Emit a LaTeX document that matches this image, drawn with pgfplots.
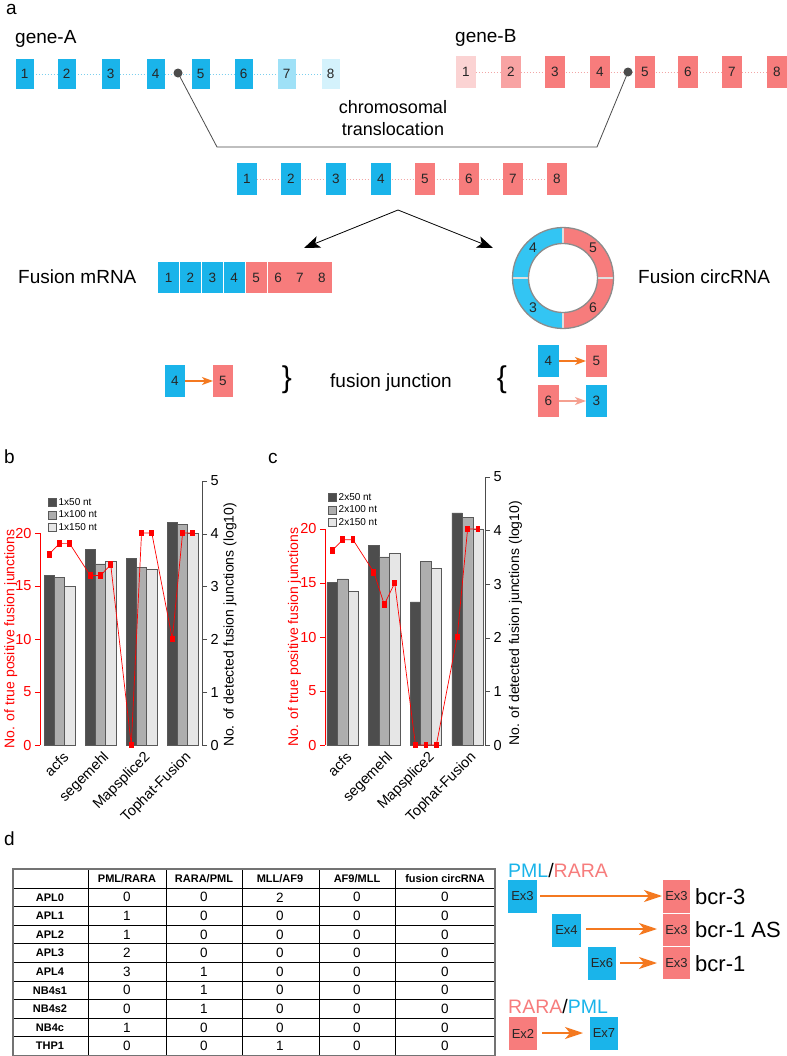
\documentclass[border=0pt]{standalone}
\usepackage{pgfplots}
\pgfplotsset{compat=1.18}
\usepackage{pgfplotstable}
\usepackage{fontspec}
\setmainfont{Liberation Sans}
\usetikzlibrary{arrows.meta}

\definecolor{cblue}{HTML}{1AB4EA}
\definecolor{cblueS}{HTML}{9FE1F7}
\definecolor{cblueT}{HTML}{D4F2FC}
\definecolor{cbluedot}{HTML}{7ACFEE}
\definecolor{cpink}{HTML}{F77C7C}
\definecolor{cpinkS}{HTML}{FBD3D3}
\definecolor{cpinkT}{HTML}{F8A3A3}
\definecolor{cpinkdot}{HTML}{F2A6A6}
\definecolor{ringblue}{HTML}{33C5F3}
\definecolor{corange}{HTML}{F47920}
\definecolor{clpink}{HTML}{F5A090}
\definecolor{barA}{HTML}{4D4D4D}
\definecolor{barB}{HTML}{AEAEAE}
\definecolor{barC}{HTML}{E6E6E6}

\newcommand{\fs}[1]{\fontsize{#1bp}{#1bp}\selectfont}
% exon box: x y w h colour label
\newcommand{\ex}[6]{%
  \fill[#5] (#1,#2) rectangle ++(#3,#4);
  \node[font=\fs{13.5}, inner sep=0pt, text=black!85] at ({#1+#3/2},{#2+#4/2}) {#6};}

% upright rectangle mark, like R's pch 15 on this plot
\pgfdeclareplotmark{rrect}{%
  \pgfpathrectangle{\pgfpoint{-2.4bp}{-3.4bp}}{\pgfpoint{4.8bp}{6.8bp}}%
  \pgfusepathqfill}

\pgfplotsset{
  mybar/.style={ybar, bar width=1, bar shift=0pt, draw=black!65, line width=0.5bp,
    legend image code/.code={\draw[##1, line width=0.5bp] (0bp,-4bp) rectangle (8bp,4bp);}},
  redline/.style={red, line width=0.7bp, mark=rrect, mark options={solid, fill=red}},
}

% detected junctions (log10), bars
\pgfplotstableread{
x50  n50  x100 n100 x150 n150
1.5  3.21 2.5  3.17 3.5  3.01
5.5  3.70 6.5  3.43 7.5  3.48
9.5  3.53 10.5 3.36 11.5 3.33
13.5 4.21 14.5 4.18 15.5 4.01
}\barsB
\pgfplotstableread{
x50  n50  x100 n100 x150 n150
1.5  3.03 2.5  3.10 3.5  2.87
5.5  3.72 6.5  3.51 7.5  3.58
9.5  2.67 10.5 3.43 11.5 3.30
13.5 4.33 14.5 4.24 15.5 4.03
}\barsC
% true positive fusion junctions
\pgfplotstableread{
x    tp
1.5  18
2.5  19
3.5  19
5.5  16
6.5  16
7.5  17
9.5  0
10.5 20
11.5 20
13.5 10
14.5 20
15.5 20
}\tpB
\pgfplotstableread{
x    tp
1.5  18
2.5  19
3.5  19
5.5  16
6.5  13
7.5  15
9.5  0
10.5 0
11.5 0
13.5 10
14.5 20
15.5 20
}\tpC

\begin{document}
\begin{tikzpicture}
\fill[white, use as bounding box] (0,0) rectangle (787bp,-1056bp);

% ---------------- panel a ----------------
\begin{scope}[x=1bp, y=-1bp]
  \node[anchor=base west, inner sep=0, font=\fs{19}] at (6,14) {a};
  \node[anchor=base west, inner sep=0, font=\fs{19}] at (15,43) {gene-A};
  \node[anchor=base west, inner sep=0, font=\fs{19}] at (455,42) {gene-B};

  \draw[cbluedot, dotted, line width=1bp] (33,74) -- (322,74);
  \foreach \x/\c/\n in {16/cblue/1,58/cblue/2,102/cblue/3,147/cblue/4,192/cblue/5,235/cblue/6,278/cblueS/7,322/cblueT/8}
    {\ex{\x}{59}{17.5}{30}{\c}{\n}}
  \draw[cpinkdot, dotted, line width=1bp] (476,72) -- (767,72);
  \foreach \x/\c/\n in {456/cpinkS/1,501/cpinkT/2,545/cpink/3,590/cpink/4,635/cpink/5,678/cpink/6,722/cpink/7,767/cpink/8}
    {\ex{\x}{56}{20}{32}{\c}{\n}}

  \draw[black!70, line width=0.8bp] (178,73) -- (217,147) -- (597,147) -- (628,72);
  \fill[black!70] (178,73) circle[radius=4.5bp];
  \fill[black!70] (628,72) circle[radius=4.5bp];
  \node[font=\fontsize{18bp}{22bp}\selectfont, align=center] at (393,118) {chromosomal\\translocation};

  % fused gene
  \draw[cpinkdot, dotted, line width=1bp] (257,179) -- (547,179);
  \foreach \x/\c/\n in {237/cblue/1,281/cblue/2,326/cblue/3,371/cblue/4,415/cpink/5,459/cpink/6,503/cpink/7,547/cpink/8}
    {\ex{\x}{163}{20}{32}{\c}{\n}}
  \draw[-{Stealth[length=16bp,width=12bp,inset=4bp]}, line width=0.8bp] (398,210) -- (304,248);
  \draw[-{Stealth[length=16bp,width=12bp,inset=4bp]}, line width=0.8bp] (398,210) -- (493,248);

  % fusion mRNA
  \node[anchor=base west, inner sep=0, font=\fs{19}] at (18,283) {Fusion mRNA};
  \foreach \i/\c in {0/cblue,1/cblue,2/cblue,3/cblue,4/cpink,5/cpink,6/cpink,7/cpink}
    {\pgfmathtruncatemacro{\n}{\i+1}
     \ex{158+21.9*\i}{262}{21.1}{31}{\c}{\n}}
  \node[anchor=base west, inner sep=0, font=\fs{19}] at (638,283) {Fusion circRNA};

  % junctions
  \ex{165}{365}{20}{32}{cblue}{4}
  \ex{213}{365}{20}{32}{cpink}{5}
  \draw[corange, line width=1.2bp, -{Stealth[length=11bp,width=8bp,inset=3bp]}] (185,381) -- (213,381);
  \node[font=\fs{30}, inner sep=0] at (287,380) {\}};
  \node[anchor=base west, inner sep=0, font=\fs{19}] at (330,387) {fusion junction};
  \node[font=\fs{30}, inner sep=0] at (502,380) {\{};
  \ex{538}{345}{21}{32}{cblue}{4}
  \ex{586}{345}{21}{32}{cpink}{5}
  \draw[corange, line width=1.2bp, -{Stealth[length=11bp,width=8bp,inset=3bp]}] (559,361) -- (586,361);
  \ex{538}{385}{21}{32}{cpink}{6}
  \ex{586}{385}{21}{32}{cblue}{3}
  \draw[clpink, line width=1.2bp, -{Stealth[length=11bp,width=8bp,inset=3bp]}] (559,401) -- (586,401);

  % panel labels b, c, d
  \node[anchor=base west, inner sep=0, font=\fs{19}] at (4,463) {b};
  \node[anchor=base west, inner sep=0, font=\fs{19}] at (268,463) {c};
  \node[anchor=base west, inner sep=0, font=\fs{19}] at (4,845) {d};

  % ---------------- panel d: table ----------------
  \foreach \x in {88,166,242,319,395}
    \draw[black, line width=0.7bp] (\x,869) -- (\x,1055.4);
  \foreach \k in {0,...,8}
    \draw[black, line width=0.7bp] (13,{888+18.6*\k}) -- (495,{888+18.6*\k});
  \draw[black!55, line width=1.5bp] (13,869) rectangle (495,1055.4);
  \foreach \x/\t in {127/PML\slash RARA,204/RARA\slash PML,280/MLL\slash AF9,357/AF9\slash MLL,445/fusion circRNA}
    \node[font=\bfseries\fs{11}, inner sep=0] at (\x,878.5) {\t};
  \foreach \r/\lab/\va/\vb/\vc/\vd [count=\k from 0] in {
      APL0/0/0/2/0/0, APL1/1/0/0/0/0, APL2/1/0/0/0/0, APL3/2/0/0/0/0, APL4/3/1/0/0/0,
      NB4s1/0/1/0/0/0, NB4s2/0/1/0/0/0, NB4c/1/0/0/0/0, THP1/0/0/1/0/0}
    {\pgfmathsetmacro{\yy}{888+18.6*\k+9.3}
     \node[font=\bfseries\fs{11}, inner sep=0] at (50,\yy) {\r};
     \node[font=\fs{13.5}, inner sep=0] at (127,\yy) {\lab};
     \node[font=\fs{13.5}, inner sep=0] at (204,\yy) {\va};
     \node[font=\fs{13.5}, inner sep=0] at (280,\yy) {\vb};
     \node[font=\fs{13.5}, inner sep=0] at (357,\yy) {\vc};
     \node[font=\fs{13.5}, inner sep=0] at (445,\yy) {\vd};}

  % ---------------- panel d: exon diagram ----------------
  \node[anchor=base west, inner sep=0, font=\fs{19.5}] at (508,877)
    {\textcolor{cblue}{PML}/\textcolor{cpink}{RARA}};
  \ex{508}{880}{29}{33}{cblue}{\fs{13}Ex3}
  \ex{663}{880}{27}{33}{cpink}{\fs{13}Ex3}
  \ex{663}{914}{27}{32}{cpink}{\fs{13}Ex3}
  \ex{663}{947}{27}{32}{cpink}{\fs{13}Ex3}
  \ex{552}{914}{29}{33}{cblue}{\fs{13}Ex4}
  \ex{588}{947}{28}{33}{cblue}{\fs{13}Ex6}
  \draw[corange, line width=1.2bp, -{Stealth[length=18bp,width=12bp,inset=5bp]}] (540,896) -- (662,896);
  \draw[corange, line width=1.2bp, -{Stealth[length=18bp,width=12bp,inset=5bp]}] (586,929) -- (657,929);
  \draw[corange, line width=1.2bp, -{Stealth[length=18bp,width=12bp,inset=5bp]}] (620,963) -- (657,963);
  \node[anchor=base west, inner sep=0, font=\fs{22}] at (695,904) {bcr-3};
  \node[anchor=base west, inner sep=0, font=\fs{22}] at (695,937) {bcr-1 AS};
  \node[anchor=base west, inner sep=0, font=\fs{22}] at (695,971) {bcr-1};
  \node[anchor=base west, inner sep=0, font=\fs{19.5}] at (508,1013)
    {\textcolor{cpink}{RARA}/\textcolor{cblue}{PML}};
  \ex{509}{1017}{28}{33}{cpink}{\fs{13}Ex2}
  \ex{590}{1017}{28}{33}{cblue}{\fs{13}Ex7}
  \draw[corange, line width=1.2bp, -{Stealth[length=18bp,width=12bp,inset=5bp]}] (542,1033) -- (583,1033);
\end{scope}

% circRNA ring
\begin{scope}[shift={(563bp,-278bp)}, x=1bp, y=1bp]
  \fill[ringblue] (90:50.5) arc[start angle=90, end angle=270, radius=50.5] -- (270:34.5)
    arc[start angle=270, end angle=90, radius=34.5] -- cycle;
  \fill[cpink] (-90:50.5) arc[start angle=-90, end angle=90, radius=50.5] -- (90:34.5)
    arc[start angle=90, end angle=-90, radius=34.5] -- cycle;
  \foreach \a in {0,90,180,270} \draw[white!75!gray, line width=1.3bp] (\a:34.5) -- (\a:50.5);
  \draw[black!45, line width=1.3bp] (0,0) circle[radius=50.5];
  \draw[black!45, line width=1.3bp] (0,0) circle[radius=34.5];
  \foreach \a/\n in {135/4,45/5,-45/6,-135/3}
    \node[font=\fs{14}, inner sep=0, text=black!85] at (\a:42.5) {\n};
\end{scope}

% ---------------- panel b ----------------
\begin{axis}[
  at={(40bp,-745bp)}, anchor=south west, scale only axis,
  width=162bp, height=264bp,
  xmin=0.61, xmax=16.39, ymin=0, ymax=5,
  axis y line*=right, axis x line*=bottom,
  x axis line style={draw=none}, xtick style={draw=none},
  xtick={2.5,6.5,10.5,14.5},
  xticklabels={acfs,segemehl,Mapsplice2,Tophat-Fusion},
  xticklabel style={font=\fs{14.5}, inner sep=0pt, xshift=6.5bp, yshift=-5bp, rotate=45, anchor=east},
  ytick={0,1,...,5},
  tick align=outside, major tick length=5bp,
  y axis line style={black!70, line width=0.6bp},
  ytick style={black!70, line width=0.6bp},
  yticklabel style={font=\fs{14.5}},
  /pgf/number format/assume math mode=true,
  ylabel={No. of detected fusion junctions (log10)},
  every axis y label/.style={at={(axis description cs:1.173,0.455)}, rotate=90, anchor=center, font=\fs{14}},
  legend style={at={(axis description cs:0.049,0.943)}, anchor=north west, draw=none, fill=none,
    font=\fs{10}, inner sep=0pt, cells={anchor=west}},
  clip=false,
]
  \addplot[mybar, fill=barA] table[x=x50, y=n50] {\barsB};
  \addlegendentry{1x50 nt}
  \addplot[mybar, fill=barB] table[x=x100, y=n100] {\barsB};
  \addlegendentry{1x100 nt}
  \addplot[mybar, fill=barC] table[x=x150, y=n150] {\barsB};
  \addlegendentry{1x150 nt}
\end{axis}
\begin{axis}[
  at={(40bp,-745bp)}, anchor=south west, scale only axis,
  width=162bp, height=212bp,
  xmin=0.61, xmax=16.39, ymin=0, ymax=20,
  axis y line*=left, axis x line=none, xtick=\empty,
  ytick={0,5,...,20},
  tick align=outside, major tick length=5bp,
  y axis line style={red, line width=0.6bp},
  ytick style={red, line width=0.6bp},
  yticklabel style={font=\fs{14.5}, text=red},
  /pgf/number format/assume math mode=true,
  ylabel={No. of true positive fusion junctions},
  every axis y label/.style={at={(axis description cs:-0.18,0.5)}, rotate=90, anchor=center, font=\fs{14}, text=red},
  clip=false,
]
  \addplot[redline] table[x=x, y=tp] {\tpB};
\end{axis}

% ---------------- panel c ----------------
\begin{axis}[
  at={(325bp,-745bp)}, anchor=south west, scale only axis,
  width=160bp, height=268bp,
  xmin=0.81, xmax=16.17, ymin=0, ymax=5,
  axis y line*=right, axis x line*=bottom,
  x axis line style={draw=none}, xtick style={draw=none},
  xtick={2.5,6.5,10.5,14.5},
  xticklabels={acfs,segemehl,Mapsplice2,Tophat-Fusion},
  xticklabel style={font=\fs{14.5}, inner sep=0pt, xshift=6.5bp, yshift=-5bp, rotate=45, anchor=east},
  ytick={0,1,...,5},
  tick align=outside, major tick length=5bp,
  y axis line style={black!70, line width=0.6bp},
  ytick style={black!70, line width=0.6bp},
  yticklabel style={font=\fs{14.5}},
  /pgf/number format/assume math mode=true,
  ylabel={No. of detected fusion junctions (log10)},
  every axis y label/.style={at={(axis description cs:1.19,0.455)}, rotate=90, anchor=center, font=\fs{14}},
  legend style={at={(axis description cs:0.019,0.948)}, anchor=north west, draw=none, fill=none,
    font=\fs{10}, inner sep=0pt, cells={anchor=west}},
  clip=false,
]
  \addplot[mybar, fill=barA] table[x=x50, y=n50] {\barsC};
  \addlegendentry{2x50 nt}
  \addplot[mybar, fill=barB] table[x=x100, y=n100] {\barsC};
  \addlegendentry{2x100 nt}
  \addplot[mybar, fill=barC] table[x=x150, y=n150] {\barsC};
  \addlegendentry{2x150 nt}
\end{axis}
\begin{axis}[
  at={(325bp,-745bp)}, anchor=south west, scale only axis,
  width=160bp, height=216bp,
  xmin=0.81, xmax=16.17, ymin=0, ymax=20,
  axis y line*=left, axis x line=none, xtick=\empty,
  ytick={0,5,...,20},
  tick align=outside, major tick length=5bp,
  y axis line style={red, line width=0.6bp},
  ytick style={red, line width=0.6bp},
  yticklabel style={font=\fs{14.5}, text=red},
  /pgf/number format/assume math mode=true,
  ylabel={No. of true positive fusion junctions},
  every axis y label/.style={at={(axis description cs:-0.19,0.5)}, rotate=90, anchor=center, font=\fs{14}, text=red},
  clip=false,
]
  \addplot[redline] table[x=x, y=tp] {\tpC};
\end{axis}
\end{tikzpicture}
\end{document}
